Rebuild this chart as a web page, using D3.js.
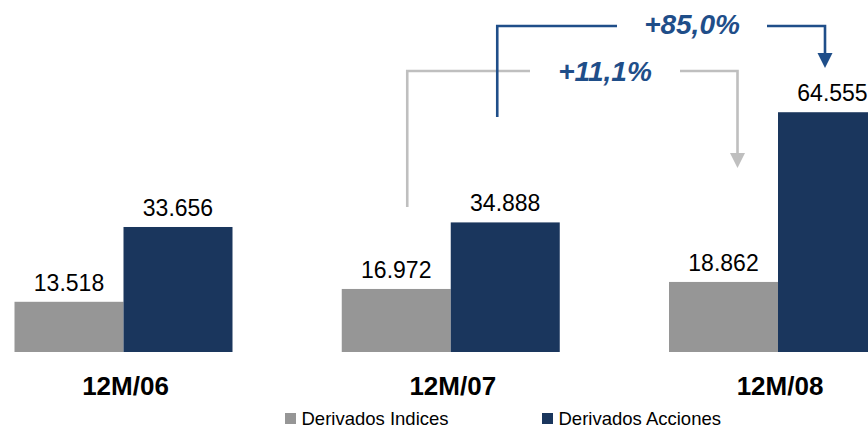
<!DOCTYPE html>
<html>
<head>
<meta charset="utf-8">
<script src="https://cdn.jsdelivr.net/npm/d3@7"></script>
<style>
  html, body { margin: 0; padding: 0; background: #fff; }
  svg { display: block; font-family: "Liberation Sans", Arial, sans-serif; }
</style>
</head>
<body>
<svg id="chart" width="868" height="428"></svg>
<script>
// Periods and series
const categories = ["12M/06", "12M/07", "12M/08"];
const seriesNames = ["Derivados Indices", "Derivados Acciones"];
const indices = [13.518, 16.972, 18.862];
const acciones = [33.656, 34.888, 64.555];
const valueLabels = [["13.518", "16.972", "18.862"], ["33.656", "34.888", "64.555"]];
const growthLabels = ["+11,1%", "+85,0%"];

const colors = ["#969696", "#1a365d"];
const arrowColors = ["#bfbfbf", "#1f4e89"];

const svg = d3.select("#chart");

const x0 = d3.scalePoint().domain(categories).range([123.5, 778]);
const x1 = d3.scaleBand().domain(seriesNames).range([-109, 109]).padding(0);
const y = d3.scaleLinear().domain([0, 70]).range([352, 92]);

const series = [indices, acciones];

const rows = categories.map((c, i) => ({ cat: c, vals: series.map((s, k) => ({ name: seriesNames[k], v: s[i], label: valueLabels[k][i], k })) }));

const g = svg.selectAll("g.grp").data(rows).join("g")
  .attr("class", "grp")
  .attr("transform", d => `translate(${x0(d.cat)},0)`);

g.selectAll("rect").data(d => d.vals).join("rect")
  .attr("x", d => x1(d.name))
  .attr("width", x1.bandwidth())
  .attr("y", d => y(d.v))
  .attr("height", d => y(0) - y(d.v))
  .attr("fill", d => colors[d.k]);

g.selectAll("text.val").data(d => d.vals).join("text")
  .attr("class", "val")
  .attr("x", d => x1(d.name) + x1.bandwidth() / 2)
  .attr("y", d => y(d.v) - 11)
  .attr("text-anchor", "middle")
  .attr("font-size", 23)
  .attr("fill", "#000")
  .text(d => d.label);

// Category axis labels
g.append("text")
  .attr("x", 2)
  .attr("y", 395)
  .attr("text-anchor", "middle")
  .attr("font-size", 26)
  .attr("font-weight", "bold")
  .attr("fill", "#000")
  .text(d => d.cat);

// Legend
const legendX = [285, 542];
const lg = svg.selectAll("g.leg").data(seriesNames).join("g")
  .attr("class", "leg")
  .attr("transform", (d, i) => `translate(${legendX[i]},413)`);
lg.append("rect").attr("width", 11).attr("height", 11).attr("fill", (d, i) => colors[i]);
lg.append("text").attr("x", 16.5).attr("y", 12)
  .attr("font-size", 18.5).attr("fill", "#000").text(d => d);

// Growth brackets from 12M/07 to 12M/08
function growthArrow(k, fromX, toX, startY, topY, tipY, textX1, textX2, textY, label) {
  const col = arrowColors[k];
  const a = svg.append("g");
  a.append("path")
    .attr("d", `M${fromX},${startY}V${topY}H${textX1}`)
    .attr("fill", "none").attr("stroke", col).attr("stroke-width", 2.6);
  a.append("path")
    .attr("d", `M${textX2},${topY}H${toX}V${tipY - 14}`)
    .attr("fill", "none").attr("stroke", col).attr("stroke-width", 2.6);
  a.append("path")
    .attr("d", `M${toX - 7.5},${tipY - 15}L${toX + 7.5},${tipY - 15}L${toX},${tipY}Z`)
    .attr("fill", col);
  a.append("text")
    .attr("x", (textX1 + textX2) / 2)
    .attr("y", textY)
    .attr("text-anchor", "middle")
    .attr("font-size", 28)
    .attr("font-weight", "bold")
    .attr("font-style", "italic")
    .attr("fill", arrowColors[1])
    .text(label);
}

const b = x1.bandwidth() / 2;
// Indices: gray bracket
growthArrow(0,
  x0(categories[1]) + x1(seriesNames[0]) + b + 11,
  x0(categories[2]) + x1(seriesNames[0]) + b + 14,
  207, 71, 168, 530, 680, 80.5, growthLabels[0]);
// Acciones: navy bracket
growthArrow(1,
  x0(categories[1]) + x1(seriesNames[1]) + b - 8,
  x0(categories[2]) + x1(seriesNames[1]) + b - 7.5,
  117, 26, 68, 617, 767, 33.5, growthLabels[1]);
</script>
</body>
</html>
